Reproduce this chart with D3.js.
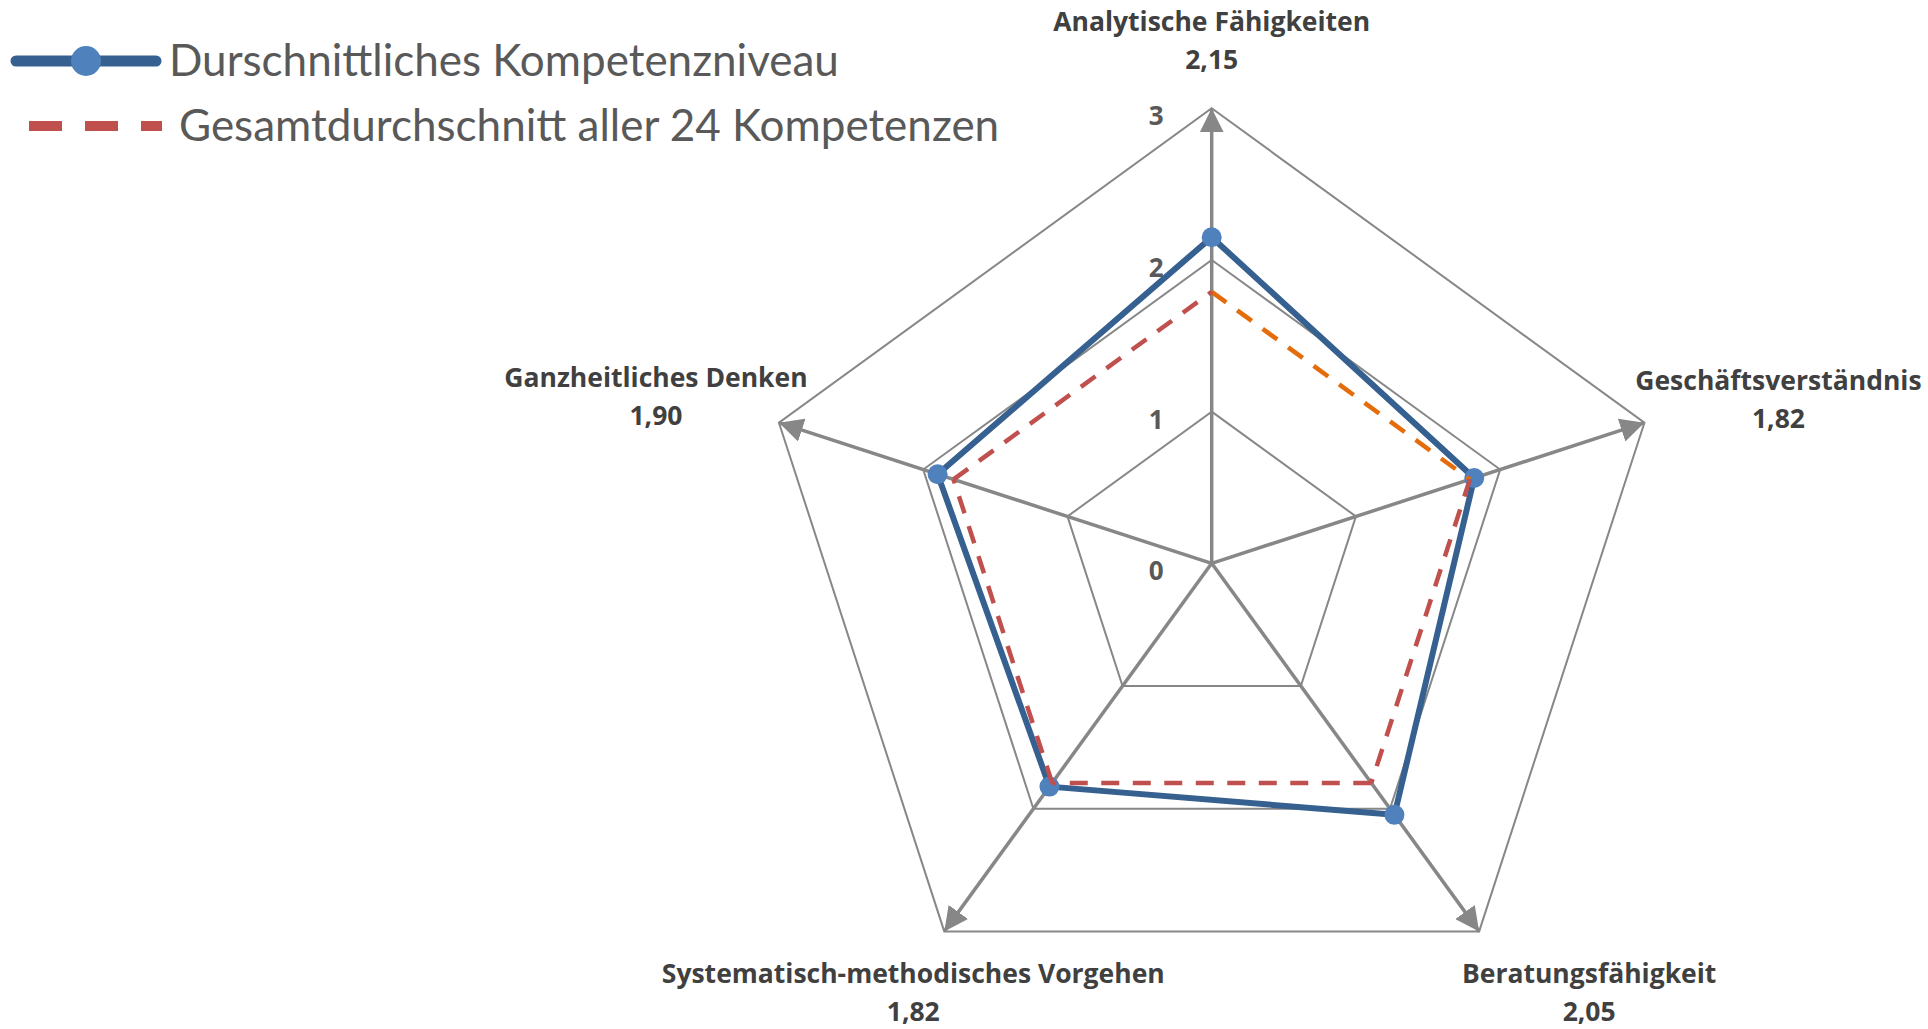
<!DOCTYPE html>
<html>
<head>
<meta charset="utf-8">
<script src="https://cdn.jsdelivr.net/npm/d3@7"></script>
<style>
  html, body { margin: 0; padding: 0; background: #ffffff; }
  svg { display: block; }
</style>
</head>
<body>
<svg id="chart" width="1928" height="1029"></svg>
<script>
// ---------- data ----------
const categories = ["Analytische Fähigkeiten", "Geschäftsverständnis", "Beratungsfähigkeit", "Systematisch-methodisches Vorgehen", "Ganzheitliches Denken"];
const valueLabels = ["2,15", "1,82", "2,05", "1,82", "1,90"];
const avgLevel = [2.15, 1.82, 2.05, 1.82, 1.90];
const overallAverage = [1.79, 1.79, 1.79, 1.79, 1.79];
const tickValues = [0, 1, 2, 3];
const seriesNames = ["Durschnittliches Kompetenzniveau", "Gesamtdurchschnitt aller 24 Kompetenzen"];

// ---------- layout / style ----------
const W = 1928, H = 1029;
const cx = 1211.7, cy = 563.3, R = 455;
const gridColor = "#878787";
const blueLine = "#36608f", blueMarker = "#4f81bd";
const redLine = "#c0504d", orangeLine = "#e46c0a";
const labelColor = "#404040";
const labelFont = "'Open Sans', Lato, sans-serif";
// label anchor offsets relative to the axis end (first-line baseline)
const labelOffsets = [[0, -77], [134, -33], [110, 52], [-31, 52], [-123, -36]];

const svg = d3.select("#chart");
const r = d3.scaleLinear().domain([0, 3]).range([0, R]);
const angle = d3.scaleLinear().domain([0, categories.length]).range([0, 2 * Math.PI]);
const pt = (i, v) => [cx + r(v) * Math.sin(angle(i)), cy - r(v) * Math.cos(angle(i))];

// arrow marker
svg.append("defs").append("marker")
  .attr("id", "arrow").attr("markerUnits", "userSpaceOnUse")
  .attr("markerWidth", 24).attr("markerHeight", 24)
  .attr("viewBox", "0 0 22 22").attr("refX", 22).attr("refY", 11)
  .attr("orient", "auto")
  .append("path").attr("d", "M0,0 L22,11 L0,22 Z").attr("fill", gridColor);

// grid rings
const ringLine = d3.line().curve(d3.curveLinearClosed);
svg.append("g").selectAll("path").data(tickValues.filter(t => t > 0)).join("path")
  .attr("d", t => ringLine(categories.map((c, i) => pt(i, t))))
  .attr("fill", "none").attr("stroke", gridColor).attr("stroke-width", 2);

// spokes
svg.append("g").selectAll("line").data(categories).join("line")
  .attr("x1", cx).attr("y1", cy)
  .attr("x2", (d, i) => pt(i, 3)[0]).attr("y2", (d, i) => pt(i, 3)[1])
  .attr("stroke", gridColor).attr("stroke-width", 3.5)
  .attr("marker-end", "url(#arrow)");

// tick labels
svg.append("g").selectAll("text").data(tickValues).join("text")
  .attr("x", cx - 48).attr("y", t => cy - r(t) + 17)
  .attr("text-anchor", "end")
  .attr("font-family", labelFont).attr("font-weight", "bold")
  .attr("font-size", 26).attr("fill", "#595959")
  .text(t => t);

// blue series
const radial = d3.lineRadial().angle((d, i) => angle(i)).radius(d => r(d)).curve(d3.curveLinearClosed);
const gPlot = svg.append("g").attr("transform", `translate(${cx},${cy})`);
gPlot.append("path").attr("d", radial(avgLevel))
  .attr("fill", "none").attr("stroke", blueLine).attr("stroke-width", 6).attr("stroke-linejoin", "round");
gPlot.selectAll("circle").data(avgLevel).join("circle")
  .attr("cx", (d, i) => r(d) * Math.sin(angle(i)))
  .attr("cy", (d, i) => -r(d) * Math.cos(angle(i)))
  .attr("r", 10).attr("fill", blueMarker);

// red series, drawn segment by segment (first segment orange)
const segs = overallAverage.map((v, i) => {
  const j = (i + 1) % overallAverage.length;
  return { a: pt(i, v), b: pt(j, overallAverage[j]), color: i === 0 ? orangeLine : redLine };
});
svg.append("g").selectAll("line").data(segs).join("line")
  .attr("x1", d => d.a[0]).attr("y1", d => d.a[1])
  .attr("x2", d => d.b[0]).attr("y2", d => d.b[1])
  .attr("stroke", d => d.color).attr("stroke-width", 4.5)
  .attr("stroke-dasharray", "18,13.5");

// category labels
const gLab = svg.append("g")
  .attr("font-family", labelFont).attr("font-weight", "bold")
  .attr("font-size", 26.5).attr("fill", labelColor).attr("text-anchor", "middle");
categories.forEach((c, i) => {
  const p = pt(i, 3);
  const x = p[0] + labelOffsets[i][0], y = p[1] + labelOffsets[i][1];
  gLab.append("text").attr("x", x).attr("y", y).text(c);
  gLab.append("text").attr("x", x).attr("y", y + 38).text(valueLabels[i]);
});

// legend
const gLeg = svg.append("g");
gLeg.append("line").attr("x1", 16).attr("x2", 156).attr("y1", 61).attr("y2", 61)
  .attr("stroke", blueLine).attr("stroke-width", 11).attr("stroke-linecap", "round");
gLeg.append("circle").attr("cx", 86).attr("cy", 61).attr("r", 15).attr("fill", blueMarker);
gLeg.append("line").attr("x1", 29).attr("x2", 162).attr("y1", 126).attr("y2", 126)
  .attr("stroke", redLine).attr("stroke-width", 10).attr("stroke-dasharray", "33,23");
gLeg.selectAll("text").data(seriesNames).join("text")
  .attr("x", (d, i) => i === 0 ? 169 : 179)
  .attr("y", (d, i) => i === 0 ? 76 : 141)
  .attr("font-family", "Lato, 'Open Sans', sans-serif")
  .attr("font-size", 44).attr("fill", "#595959")
  .text(d => d);
</script>
</body>
</html>
